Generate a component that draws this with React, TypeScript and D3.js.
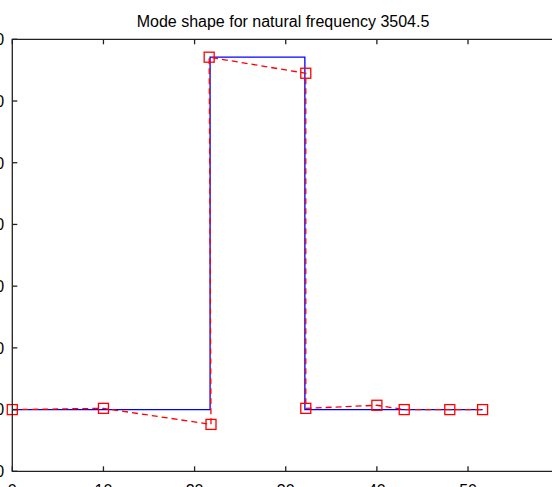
import React from "react";
import * as d3 from "d3";

// Mode shape: exact (blue, stepped) and discretised nodal solution (red, dashed + markers)
const exactX = [0, 21.7, 21.7, 32.1, 32.1, 51.6];
const exactY = [0, 0, 57.1, 57.1, 0, 0];

const nodeX = [0, 10, 21.8, 21.6, 32.2, 32.2, 40, 43, 48, 51.6];
const nodeY = [0, 0.2, -2.4, 57.1, 54.5, 0.2, 0.7, 0, 0, 0];

const xTicks = [0, 10, 20, 30, 40, 50];
const yTicks = [-10, 0, 10, 20, 30, 40, 50, 60];
const xDomain = [0, 59.4];
const yDomain = [-10, 60];

const title = "Mode shape for natural frequency 3504.5";

const W = 552;
const H = 487;
const left = 12.3;
const right = 553.7;
const top = 39.3;
const bottom = 471.3;
const FONT = "'Liberation Sans', Arial, Helvetica, sans-serif";

export default function App() {
  const x = d3.scaleLinear().domain(xDomain).range([left, right]);
  const y = d3.scaleLinear().domain(yDomain).range([bottom, top]);

  const exactPts: [number, number][] = exactX.map((v, i) => [v, exactY[i]]);
  const nodePts: [number, number][] = nodeX.map((v, i) => [v, nodeY[i]]);

  const line = d3
    .line<[number, number]>()
    .x((d) => x(d[0]))
    .y((d) => y(d[1]));

  const tickLen = 5;
  const sq = 10;

  return (
    <svg
      width={W}
      height={H}
      style={{ position: "absolute", left: 0, top: 0, background: "#fff" }}
      fontFamily={FONT}
    >
      <rect x={0} y={0} width={W} height={H} fill="#fff" />

      <text x={(left + right) / 2} y={27} textAnchor="middle" fontSize={16} fill="#000">
        {title}
      </text>

      {/* data */}
      <path d={line(exactPts) ?? ""} fill="none" stroke="#0000ff" strokeWidth={1.3} />
      <path
        d={line(nodePts) ?? ""}
        fill="none"
        stroke="#ff0000"
        strokeWidth={1.3}
        strokeDasharray="6,4"
      />
      {nodePts.map((d, i) => (
        <rect
          key={i}
          x={x(d[0]) - sq / 2}
          y={y(d[1]) - sq / 2}
          width={sq}
          height={sq}
          fill="none"
          stroke="#ff0000"
          strokeWidth={1.3}
        />
      ))}

      {/* axes box */}
      <path
        d={`M${right},${top}H${left}V${bottom}H${right}`}
        fill="none"
        stroke="#222"
        strokeWidth={1.3}
      />
      {xTicks.map((t) => (
        <g key={"x" + t}>
          <line x1={x(t)} x2={x(t)} y1={bottom} y2={bottom - tickLen} stroke="#222" strokeWidth={1.3} />
          <line x1={x(t)} x2={x(t)} y1={top} y2={top + tickLen} stroke="#222" strokeWidth={1.3} />
          <text x={x(t)} y={bottom + 25} textAnchor="middle" fontSize={16} fill="#000">
            {t}
          </text>
        </g>
      ))}
      {yTicks.map((t) => (
        <g key={"y" + t}>
          <line x1={left} x2={left + tickLen} y1={y(t)} y2={y(t)} stroke="#222" strokeWidth={1.3} />
          <text x={4.2} y={y(t) + 5.8} textAnchor="end" fontSize={16} fill="#000">
            {t}
          </text>
        </g>
      ))}
    </svg>
  );
}
